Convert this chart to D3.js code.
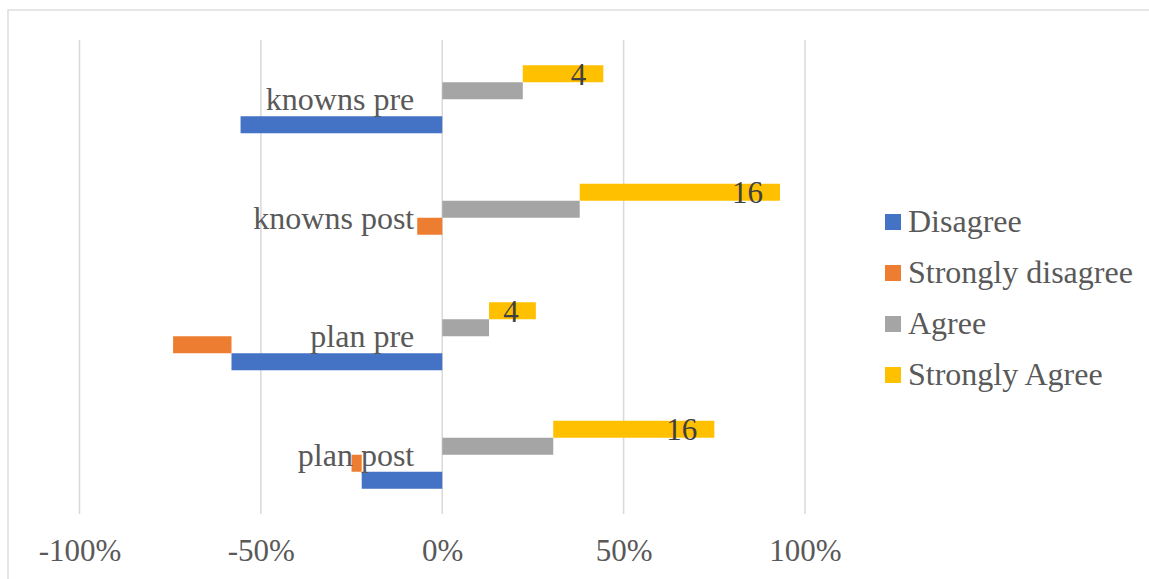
<!DOCTYPE html>
<html>
<head>
<meta charset="utf-8">
<script src="https://cdn.jsdelivr.net/npm/d3@7"></script>
<style>
  body { margin: 0; background: #fff; }
  text { font-family: "Liberation Serif", "Times New Roman", serif; }
</style>
</head>
<body>
<svg id="chart" width="1149" height="579"></svg>
<script>
// categories, top to bottom
const categories = ["knowns pre", "knowns post", "plan pre", "plan post"];
// series (percent, negatives point left)
const disagree = [-55.6, 0, -58.1, -22.2];
const stronglyDisagree = [0, -6.9, -16.1, -2.8];
const agree = [22.2, 37.9, 12.9, 30.6];
const stronglyAgree = [22.2, 55.2, 12.9, 44.4];
// counts shown on the Strongly Agree bars
const saLabels = ["4", "16", "4", "16"];
const xTicks = [-100, -50, 0, 50, 100];

const seriesNames = ["Disagree", "Strongly disagree", "Agree", "Strongly Agree"];
const colors = ["#4472c4", "#ed7d31", "#a5a5a5", "#ffc000"];

const svg = d3.select("#chart");

// chart frame (only top and left edges fall inside the picture)
svg.append("rect")
    .attr("x", 8).attr("y", 10)
    .attr("width", 1200).attr("height", 700)
    .attr("fill", "none")
    .attr("stroke", "#d9d9d9")
    .attr("stroke-width", 1.3);

const x = d3.scaleLinear().domain([-100, 100]).range([79.5, 805]);

const y = d3.scaleBand()
    .domain(categories)
    .range([40, 514])
    .paddingInner(0.426)
    .paddingOuter(0.213);

// sub rows inside each category: Strongly Agree on top, Disagree at bottom
const ySub = d3.scaleBand()
    .domain(["Strongly Agree", "Agree", "Strongly disagree", "Disagree"])
    .range([0, y.bandwidth()]);

// gridlines
svg.append("g")
    .selectAll("line")
    .data(xTicks)
    .join("line")
    .attr("x1", d => x(d)).attr("x2", d => x(d))
    .attr("y1", 40).attr("y2", 514)
    .attr("stroke", "#d9d9d9")
    .attr("stroke-width", 1.5);

// x axis labels
const xAxis = svg.append("g")
    .attr("transform", "translate(0,561)")
    .call(d3.axisBottom(x).tickValues(xTicks).tickFormat(d => d + "%").tickSize(0).tickPadding(0));
xAxis.select(".domain").remove();
xAxis.selectAll("text")
    .attr("dy", 0)
    .attr("fill", "#595959")
    .style("font-family", "'Liberation Serif', 'Times New Roman', serif")
    .style("font-size", "31px");

// build bar segments, stacked outward from zero
const bars = [];
categories.forEach((c, i) => {
    bars.push({ cat: c, s: "Disagree", x0: 0, x1: disagree[i] });
    bars.push({ cat: c, s: "Strongly disagree", x0: disagree[i], x1: disagree[i] + stronglyDisagree[i] });
    bars.push({ cat: c, s: "Agree", x0: 0, x1: agree[i] });
    bars.push({ cat: c, s: "Strongly Agree", x0: agree[i], x1: agree[i] + stronglyAgree[i], label: saLabels[i] });
});
const color = d3.scaleOrdinal().domain(seriesNames).range(colors);

svg.append("g")
    .selectAll("rect")
    .data(bars.filter(d => d.x1 !== d.x0))
    .join("rect")
    .attr("x", d => x(Math.min(d.x0, d.x1)))
    .attr("width", d => Math.abs(x(d.x1) - x(d.x0)))
    .attr("y", d => y(d.cat) + ySub(d.s))
    .attr("height", ySub.bandwidth())
    .attr("fill", d => color(d.s));

// category labels sit just left of the zero line
svg.append("g")
    .selectAll("text")
    .data(categories)
    .join("text")
    .attr("x", x(0) - 28)
    .attr("y", d => y(d) + y.bandwidth() / 2 + 11)
    .attr("text-anchor", "end")
    .attr("fill", "#595959")
    .style("font-size", "32px")
    .text(d => d);

// data labels, inside end of Strongly Agree bars
svg.append("g")
    .selectAll("text")
    .data(bars.filter(d => d.label))
    .join("text")
    .attr("x", d => x(d.x1) - 17)
    .attr("y", d => y(d.cat) + ySub(d.s) + ySub.bandwidth() / 2 + 11)
    .attr("text-anchor", "end")
    .attr("fill", "#404040")
    .style("font-size", "31px")
    .text(d => d.label);

// legend
const legend = svg.append("g")
    .selectAll("g")
    .data(seriesNames)
    .join("g")
    .attr("transform", (d, i) => `translate(885,${222 + i * 51})`);
legend.append("rect")
    .attr("x", 0).attr("y", -8)
    .attr("width", 16).attr("height", 16)
    .attr("fill", d => color(d));
legend.append("text")
    .attr("x", 23).attr("y", 10)
    .attr("fill", "#595959")
    .style("font-size", "32px")
    .text(d => d);
</script>
</body>
</html>
